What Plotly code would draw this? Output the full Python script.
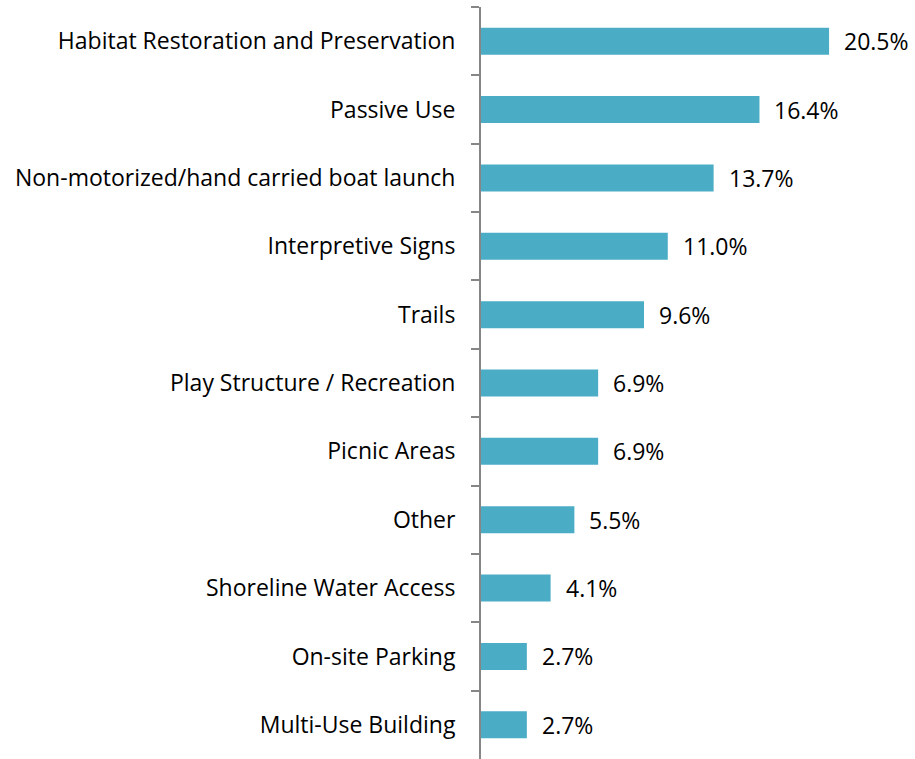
import plotly.graph_objects as go

categories = [
    "Habitat Restoration and Preservation",
    "Passive Use",
    "Non-motorized/hand carried boat launch",
    "Interpretive Signs",
    "Trails",
    "Play Structure / Recreation",
    "Picnic Areas",
    "Other",
    "Shoreline Water Access",
    "On-site Parking",
    "Multi-Use Building",
]
values = [20.5, 16.4, 13.7, 11.0, 9.6, 6.9, 6.9, 5.5, 4.1, 2.7, 2.7]
labels = [f"{v:.1f}%" for v in values]

FONT = "Open Sans"

fig = go.Figure(
    go.Bar(
        x=values,
        y=categories,
        orientation="h",
        marker=dict(color="#4BACC6", line=dict(width=0)),
        hoverinfo="skip",
    )
)

annotations = [
    dict(
        x=v, y=c, text=t, xref="x", yref="y", showarrow=False,
        xanchor="left", yanchor="middle", xshift=13,
        font=dict(family=FONT, size=23, color="#000000"),
    )
    for v, c, t in zip(values, categories, labels)
]

fig.update_layout(
    width=915,
    height=759,
    margin=dict(l=481, r=0, t=7, b=0, pad=0),
    paper_bgcolor="white",
    plot_bgcolor="white",
    bargap=0.605,
    showlegend=False,
    annotations=annotations,
    font=dict(family=FONT, size=23, color="#000000"),
)
fig.update_xaxes(visible=False, range=[0, 25.56], fixedrange=True)
fig.update_yaxes(
    autorange="reversed",
    showline=True,
    linecolor="#868686",
    linewidth=2,
    ticks="outside",
    tickson="boundaries",
    ticklen=8,
    tickwidth=2,
    tickcolor="#868686",
    showgrid=False,
    zeroline=False,
    ticklabelstandoff=19,
    tickfont=dict(family=FONT, size=23, color="#000000"),
    fixedrange=True,
)

fig.write_html("out.html")
